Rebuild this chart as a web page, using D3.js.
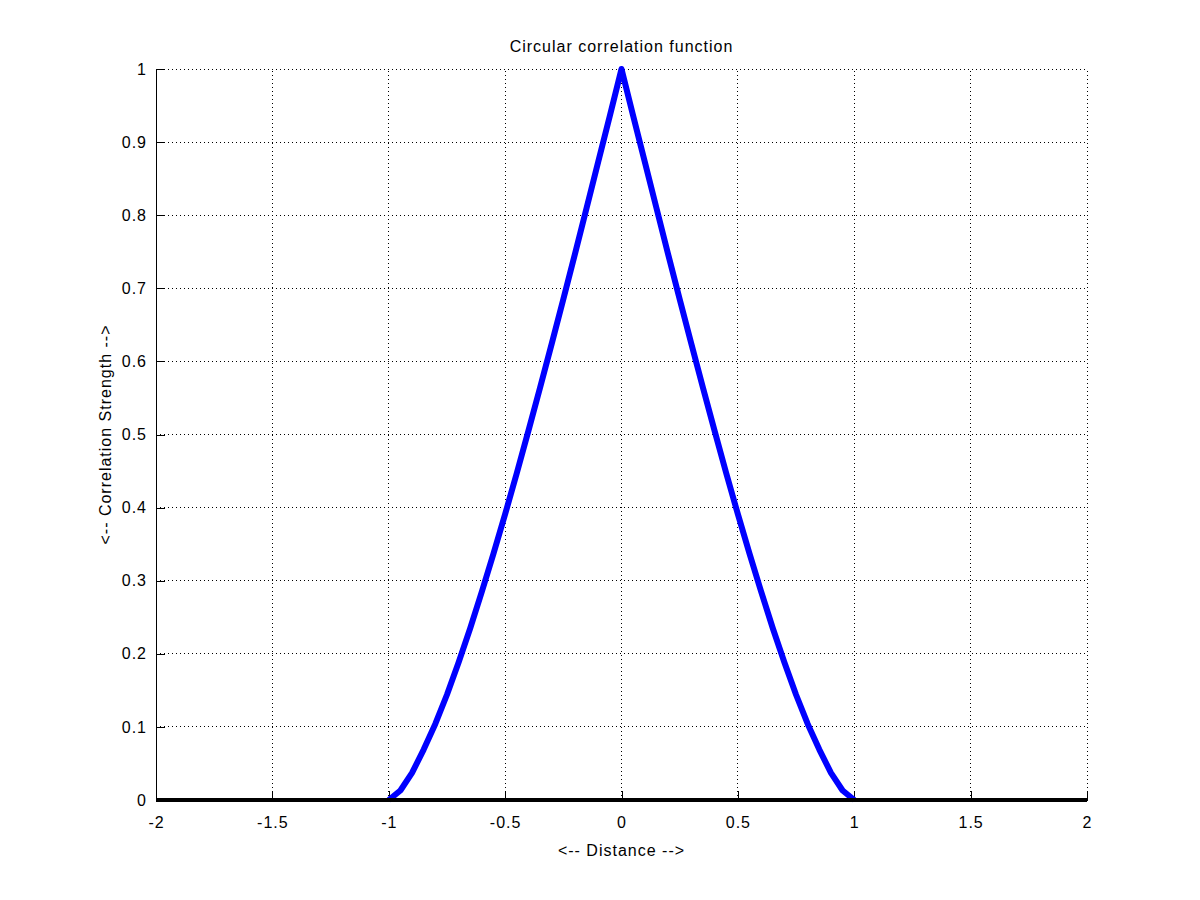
<!DOCTYPE html>
<html>
<head>
<meta charset="utf-8">
<script src="https://cdn.jsdelivr.net/npm/d3@7"></script>
<style>
  body { margin: 0; background: #fff; }
  text { font-family: "Liberation Sans", Arial, sans-serif; font-size: 16px; letter-spacing: 1px; fill: #000; }
</style>
</head>
<body>
<script>
var width = 1200,
    height = 900,
    margin = {left: 156, right: 113, top: 69, bottom: 100};

// values
var distance = [-1, -0.95, -0.9, -0.85, -0.8, -0.75, -0.7, -0.65, -0.6, -0.55, -0.5,
                -0.45, -0.4, -0.35, -0.3, -0.25, -0.2, -0.15, -0.1, -0.05, 0,
                0.05, 0.1, 0.15, 0.2, 0.25, 0.3, 0.35, 0.4, 0.45, 0.5,
                0.55, 0.6, 0.65, 0.7, 0.75, 0.8, 0.85, 0.9, 0.95, 1];
var strength = [0, 0.013, 0.037, 0.069, 0.104, 0.144, 0.188, 0.235, 0.285, 0.337, 0.391,
                0.447, 0.505, 0.564, 0.624, 0.685, 0.747, 0.810, 0.873, 0.936, 1,
                0.936, 0.873, 0.810, 0.747, 0.685, 0.624, 0.564, 0.505, 0.447, 0.391,
                0.337, 0.285, 0.235, 0.188, 0.144, 0.104, 0.069, 0.037, 0.013, 0];
var baseline = [-2, 2];
var xTicks = [-2, -1.5, -1, -0.5, 0, 0.5, 1, 1.5, 2];
var yTicks = [0, 0.1, 0.2, 0.3, 0.4, 0.5, 0.6, 0.7, 0.8, 0.9, 1];

var svg = d3.select("body").append("svg")
    .attr("width", width)
    .attr("height", height);

var x = d3.scaleLinear().domain([-2, 2]).range([margin.left, width - margin.right]);
var y = d3.scaleLinear().domain([0, 1]).range([height - margin.bottom, margin.top]);

// grid
svg.append("g").selectAll("line.vg")
    .data(xTicks).enter().append("line")
    .attr("x1", d => x(d)).attr("x2", d => x(d))
    .attr("y1", y(0)).attr("y2", y(1))
    .attr("stroke", "#000").attr("stroke-width", 1)
    .attr("stroke-dasharray", "1,3")
    .attr("shape-rendering", "crispEdges");
svg.append("g").selectAll("line.hg")
    .data(yTicks).enter().append("line")
    .attr("y1", d => y(d)).attr("y2", d => y(d))
    .attr("x1", x(-2)).attr("x2", x(2))
    .attr("stroke", "#000").attr("stroke-width", 1)
    .attr("stroke-dasharray", "1,3")
    .attr("shape-rendering", "crispEdges");

// axes with inward ticks, plain hyphen minus like the original
var fmt = function(d) { return String(d); };
var xAxis = d3.axisBottom(x).tickValues(xTicks).tickSizeInner(-9).tickSizeOuter(0)
    .tickPadding(18).tickFormat(fmt);
var yAxis = d3.axisLeft(y).tickValues(yTicks).tickSizeInner(-9).tickSizeOuter(0)
    .tickPadding(16).tickFormat(fmt);

var gx = svg.append("g")
    .attr("transform", "translate(0," + y(0) + ")")
    .call(xAxis);
var gy = svg.append("g")
    .attr("transform", "translate(" + x(-2) + ",0)")
    .call(yAxis);
[gx, gy].forEach(function(g) {
    g.selectAll("path, line").attr("stroke", "#000").attr("shape-rendering", "crispEdges");
    g.selectAll("text").attr("font-family", null).attr("font-size", null).attr("fill", "#000");
});
gy.selectAll("text").attr("dx", "7");
gx.selectAll("text").attr("dy", "0.6em");

var line = d3.line()
    .x(function(d) { return x(d[0]); })
    .y(function(d) { return y(d[1]); });

svg.append("path")
    .attr("d", line(distance.map(function(d, i) { return [d, strength[i]]; })))
    .attr("stroke", "#0000ff")
    .attr("stroke-width", 6)
    .attr("stroke-linejoin", "round")
    .attr("fill", "none");

svg.append("path")
    .attr("d", line(baseline.map(function(d) { return [d, 0]; })))
    .attr("stroke", "#000")
    .attr("stroke-width", 4)
    .attr("fill", "none");

svg.append("text")
    .attr("x", x(0)).attr("y", 52)
    .attr("text-anchor", "middle")
    .text("Circular correlation function");

svg.append("text")
    .attr("x", x(0)).attr("y", 856)
    .attr("text-anchor", "middle")
    .text("<-- Distance -->");

svg.append("text")
    .attr("transform", "translate(111," + y(0.5) + ") rotate(-90)")
    .attr("text-anchor", "middle")
    .text("<-- Correlation Strength -->");
</script>
</body>
</html>
